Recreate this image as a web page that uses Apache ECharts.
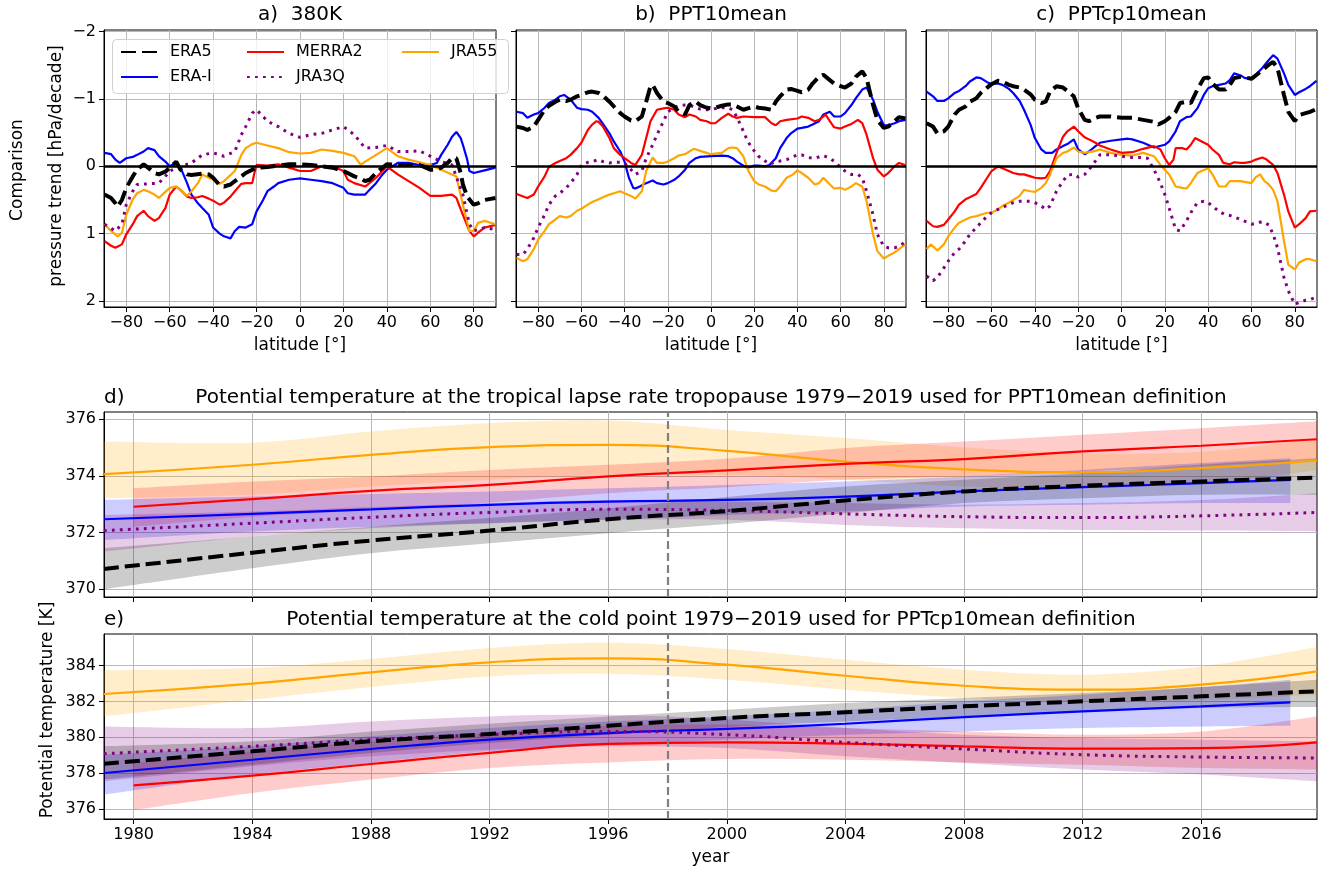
<!DOCTYPE html>
<html>
<head>
<meta charset="utf-8">
<script src="https://cdn.jsdelivr.net/npm/echarts@6.0.0/dist/echarts.min.js"></script>
<style>
  html, body { margin: 0; padding: 0; background: #ffffff; }
  #chart { width: 1322px; height: 871px; }
</style>
</head>
<body>
<div id="chart"></div>
<script>
// ---------- tick positions ----------
const latTicks = [-80, -60, -40, -20, 0, 20, 40, 60, 80];
const trendTicks = [-2, -1, 0, 1, 2];
const yearTicks = [1980, 1984, 1988, 1992, 1996, 2000, 2004, 2008, 2012, 2016];
const thetaTicksD = [370, 372, 374, 376];
const thetaTicksE = [376, 378, 380, 382, 384];

// ---------- a) 380K pressure trends [hPa/decade] as [latitude, trend] ----------
const a_ERA5 = [[-90,0.42],[-87,0.47],[-85,0.55],[-84,0.6],[-82,0.5],[-80,0.32],[-77,0.15],[-75,0.05],[-72,-0.03],[-70,0.02],[-67,0.1],[-65,0.12],[-62,0.08],[-60,0.02],[-57,-0.07],[-55,0.05],[-52,0.12],[-50,0.13],[-45,0.11],[-42,0.12],[-40,0.17],[-37,0.28],[-35,0.3],[-32,0.27],[-30,0.22],[-27,0.15],[-25,0.1],[-22,0.05],[-20,0.02],[-15,0.01],[-10,-0.01],[-5,-0.03],[0,-0.03],[5,-0.02],[10,0],[15,0.02],[20,0.07],[25,0.15],[28,0.18],[30,0.22],[32,0.2],[35,0.1],[38,0.02],[40,-0.03],[45,-0.02],[50,-0.02],[55,-0.02],[60,0.05],[63,0.05],[65,0.02],[68,-0.05],[70,-0.12],[72,-0.12],[74,0.1],[75,0.27],[77,0.45],[80,0.57],[82,0.55],[85,0.5],[90,0.47]];
const a_ERAI = [[-90,-0.2],[-87,-0.18],[-85,-0.1],[-83,-0.05],[-80,-0.12],[-77,-0.14],[-75,-0.17],[-72,-0.22],[-70,-0.27],[-67,-0.24],[-65,-0.15],[-62,-0.07],[-60,0],[-57,-0.05],[-55,0.02],[-52,0.25],[-50,0.42],[-47,0.55],[-45,0.62],[-42,0.72],[-40,0.91],[-37,1.0],[-35,1.04],[-32,1.07],[-30,0.96],[-28,0.9],[-25,0.91],[-22,0.86],[-20,0.67],[-17,0.5],[-15,0.37],[-12,0.3],[-10,0.25],[-5,0.2],[0,0.18],[5,0.2],[10,0.22],[15,0.25],[20,0.32],[22,0.4],[25,0.42],[30,0.42],[32,0.35],[35,0.25],[38,0.12],[40,0.05],[45,-0.05],[50,-0.05],[55,-0.02],[60,-0.02],[63,-0.05],[65,-0.17],[68,-0.32],[70,-0.44],[72,-0.51],[74,-0.42],[75,-0.32],[77,-0.1],[78,0.07],[80,0.1],[85,0.06],[90,0.02]];
const a_MERRA2 = [[-90,1.11],[-87,1.18],[-85,1.21],[-82,1.16],[-80,1.01],[-77,0.86],[-75,0.74],[-72,0.66],[-70,0.74],[-67,0.81],[-65,0.77],[-62,0.62],[-60,0.42],[-57,0.3],[-55,0.35],[-52,0.45],[-50,0.47],[-47,0.46],[-45,0.44],[-42,0.48],[-40,0.51],[-37,0.57],[-35,0.54],[-32,0.45],[-30,0.37],[-27,0.26],[-25,0.25],[-22,0.25],[-21,0.1],[-20,-0.02],[-15,-0.01],[-10,-0.03],[-5,0.02],[0,0.07],[5,0.07],[10,0],[15,0],[20,0.07],[22,0.2],[25,0.25],[30,0.3],[32,0.25],[35,0.17],[38,0.07],[40,0],[45,0.12],[50,0.22],[55,0.32],[60,0.44],[65,0.44],[70,0.42],[72,0.47],[75,0.72],[78,0.96],[80,1.04],[83,0.96],[85,0.91],[90,0.87]];
const a_JRA55 = [[-90,0.86],[-87,0.96],[-84,1.04],[-82,0.99],[-80,0.72],[-77,0.49],[-75,0.4],[-72,0.35],[-70,0.37],[-67,0.42],[-65,0.47],[-62,0.38],[-60,0.32],[-57,0.3],[-55,0.35],[-52,0.44],[-50,0.37],[-47,0.25],[-45,0.12],[-42,0.17],[-40,0.2],[-37,0.26],[-35,0.22],[-30,0.07],[-27,-0.17],[-25,-0.27],[-22,-0.33],[-20,-0.35],[-15,-0.31],[-10,-0.27],[-5,-0.21],[0,-0.19],[5,-0.2],[10,-0.25],[15,-0.23],[20,-0.2],[25,-0.15],[28,-0.02],[30,-0.07],[35,-0.17],[40,-0.27],[45,-0.15],[50,-0.1],[55,-0.06],[60,-0.02],[65,0.05],[70,0.12],[72,0.15],[75,0.57],[78,0.96],[80,0.96],[82,0.84],[85,0.81],[90,0.86]];
const a_JRA3Q = [[-90,0.86],[-85,0.96],[-82,0.86],[-80,0.57],[-77,0.37],[-75,0.27],[-70,0.26],[-65,0.25],[-62,0.15],[-60,0.07],[-55,0],[-50,-0.05],[-45,-0.17],[-40,-0.2],[-35,-0.15],[-30,-0.22],[-27,-0.47],[-25,-0.59],[-22,-0.79],[-20,-0.84],[-17,-0.74],[-15,-0.67],[-10,-0.59],[-5,-0.49],[0,-0.43],[5,-0.47],[10,-0.49],[15,-0.54],[20,-0.59],[25,-0.47],[30,-0.27],[35,-0.28],[40,-0.31],[45,-0.22],[50,-0.22],[55,-0.23],[60,-0.15],[65,-0.07],[70,-0.02],[75,0.42],[78,0.86],[80,0.96],[85,0.91],[90,0.94]];

// ---------- b) PPT10mean ----------
const b_ERA5 = [[-90,-0.59],[-87,-0.57],[-85,-0.54],[-82,-0.59],[-80,-0.69],[-77,-0.84],[-75,-0.9],[-72,-0.96],[-70,-0.99],[-67,-0.97],[-65,-0.99],[-62,-1.04],[-60,-1.06],[-57,-1.1],[-55,-1.11],[-52,-1.09],[-50,-1.05],[-47,-0.96],[-45,-0.89],[-42,-0.79],[-40,-0.74],[-37,-0.68],[-35,-0.67],[-32,-0.74],[-30,-0.96],[-28,-1.19],[-27,-1.21],[-25,-1.09],[-22,-0.96],[-20,-0.94],[-17,-0.89],[-15,-0.81],[-12,-0.77],[-10,-0.91],[-7,-0.96],[-5,-0.91],[-2,-0.87],[0,-0.86],[2,-0.87],[5,-0.9],[8,-0.92],[10,-0.92],[12,-0.89],[15,-0.84],[17,-0.86],[20,-0.89],[22,-0.87],[25,-0.86],[28,-0.84],[30,-0.96],[32,-1.04],[35,-1.14],[37,-1.15],[40,-1.12],[42,-1.1],[45,-1.14],[47,-1.23],[50,-1.33],[52,-1.36],[55,-1.28],[57,-1.23],[60,-1.19],[62,-1.17],[65,-1.23],[67,-1.33],[70,-1.41],[72,-1.31],[75,-0.91],[77,-0.69],[80,-0.57],[82,-0.59],[85,-0.67],[87,-0.73],[90,-0.71]];
const b_ERAI = [[-90,-0.81],[-87,-0.79],[-85,-0.72],[-82,-0.77],[-80,-0.79],[-77,-0.87],[-75,-0.94],[-72,-0.99],[-70,-1.04],[-68,-1.06],[-65,-0.99],[-62,-0.87],[-60,-0.85],[-57,-0.84],[-55,-0.81],[-52,-0.72],[-50,-0.63],[-47,-0.49],[-45,-0.37],[-42,-0.22],[-40,-0.07],[-38,0.17],[-36,0.32],[-35,0.33],[-33,0.3],[-30,0.25],[-27,0.21],[-25,0.25],[-22,0.27],[-20,0.25],[-17,0.2],[-15,0.15],[-12,0.05],[-10,-0.05],[-7,-0.12],[-5,-0.14],[0,-0.15],[5,-0.16],[8,-0.15],[10,-0.12],[12,-0.07],[15,-0.01],[17,0.02],[20,-0.01],[22,-0.01],[25,0],[27,-0.02],[30,-0.12],[32,-0.27],[35,-0.42],[37,-0.49],[40,-0.56],[42,-0.57],[45,-0.59],[47,-0.62],[50,-0.67],[52,-0.77],[55,-0.81],[57,-0.74],[60,-0.74],[62,-0.79],[65,-0.91],[67,-1.01],[70,-1.14],[72,-1.17],[75,-0.99],[77,-0.81],[80,-0.61],[82,-0.61],[85,-0.64],[87,-0.67],[90,-0.69]];
const b_MERRA2 = [[-90,0.41],[-85,0.47],[-82,0.42],[-80,0.3],[-77,0.15],[-75,0.01],[-72,-0.05],[-70,-0.08],[-67,-0.12],[-65,-0.17],[-62,-0.27],[-60,-0.35],[-57,-0.54],[-55,-0.62],[-53,-0.67],[-52,-0.66],[-50,-0.59],[-47,-0.42],[-45,-0.27],[-42,-0.17],[-40,-0.12],[-37,-0.05],[-35,-0.02],[-32,-0.17],[-30,-0.42],[-28,-0.67],[-25,-0.84],[-22,-0.86],[-20,-0.87],[-17,-0.84],[-15,-0.77],[-12,-0.73],[-10,-0.77],[-7,-0.74],[-5,-0.69],[-2,-0.67],[0,-0.64],[2,-0.64],[5,-0.72],[8,-0.78],[10,-0.74],[12,-0.72],[15,-0.74],[20,-0.73],[25,-0.73],[28,-0.64],[30,-0.61],[32,-0.67],[35,-0.69],[40,-0.71],[42,-0.74],[45,-0.72],[48,-0.67],[50,-0.69],[52,-0.74],[53,-0.77],[55,-0.67],[57,-0.58],[60,-0.56],[62,-0.59],[65,-0.63],[68,-0.69],[70,-0.64],[72,-0.47],[75,-0.12],[77,0.05],[80,0.15],[82,0.1],[85,0],[87,-0.05],[90,-0.02]];
const b_JRA55 = [[-90,1.36],[-87,1.41],[-85,1.38],[-82,1.23],[-80,1.09],[-77,0.96],[-75,0.86],[-72,0.79],[-70,0.74],[-67,0.76],[-65,0.74],[-62,0.66],[-60,0.63],[-57,0.57],[-55,0.53],[-52,0.49],[-50,0.46],[-47,0.42],[-45,0.4],[-42,0.37],[-40,0.4],[-37,0.44],[-35,0.48],[-32,0.37],[-30,0.07],[-27,-0.13],[-25,-0.05],[-22,-0.05],[-20,-0.07],[-17,-0.12],[-15,-0.16],[-12,-0.18],[-10,-0.22],[-8,-0.26],[-5,-0.23],[-2,-0.2],[0,-0.18],[5,-0.2],[8,-0.27],[10,-0.28],[12,-0.27],[15,-0.15],[17,0.05],[20,0.22],[22,0.27],[25,0.3],[28,0.36],[30,0.37],[32,0.3],[35,0.17],[38,0.12],[40,0.06],[42,0.1],[45,0.17],[48,0.27],[50,0.25],[52,0.17],[55,0.27],[57,0.33],[60,0.32],[62,0.35],[65,0.3],[67,0.25],[70,0.3],[72,0.52],[75,1.01],[77,1.26],[80,1.37],[82,1.33],[85,1.28],[87,1.23],[90,1.16]];
const b_JRA3Q = [[-90,1.31],[-87,1.31],[-85,1.23],[-82,1.06],[-80,0.91],[-77,0.72],[-75,0.57],[-72,0.44],[-70,0.4],[-67,0.32],[-65,0.25],[-62,0.12],[-60,-0.02],[-57,-0.06],[-55,-0.07],[-52,-0.1],[-50,-0.07],[-47,-0.05],[-45,-0.06],[-42,-0.06],[-40,-0.05],[-37,0.05],[-35,0.12],[-32,0.07],[-30,-0.12],[-27,-0.32],[-25,-0.47],[-22,-0.67],[-20,-0.81],[-17,-0.87],[-15,-0.9],[-12,-0.91],[-10,-0.91],[-5,-0.85],[-2,-0.84],[0,-0.85],[5,-0.87],[8,-0.87],[10,-0.84],[12,-0.73],[15,-0.52],[17,-0.37],[20,-0.23],[22,-0.15],[25,-0.08],[27,-0.03],[30,-0.07],[32,-0.08],[35,-0.1],[40,-0.17],[42,-0.17],[45,-0.13],[48,-0.12],[52,-0.16],[55,-0.12],[58,-0.05],[60,0.02],[62,0.07],[65,0.12],[68,0.12],[70,0.17],[72,0.37],[75,0.72],[77,1.01],[80,1.19],[82,1.21],[85,1.21],[87,1.19],[90,1.12]];

// ---------- c) PPTcp10mean ----------
const c_ERA5 = [[-90,-0.64],[-87,-0.59],[-85,-0.49],[-82,-0.52],[-80,-0.59],[-77,-0.77],[-75,-0.84],[-72,-0.89],[-70,-0.96],[-67,-1.01],[-65,-1.09],[-62,-1.17],[-60,-1.22],[-57,-1.27],[-55,-1.26],[-52,-1.21],[-50,-1.19],[-47,-1.17],[-45,-1.14],[-42,-1.07],[-40,-0.99],[-37,-0.94],[-35,-0.96],[-33,-1.11],[-30,-1.19],[-27,-1.17],[-25,-1.12],[-22,-1.04],[-20,-0.86],[-17,-0.69],[-15,-0.67],[-12,-0.72],[-10,-0.74],[-5,-0.74],[0,-0.72],[5,-0.72],[10,-0.69],[15,-0.66],[17,-0.62],[20,-0.67],[22,-0.72],[25,-0.81],[27,-0.94],[30,-0.96],[32,-0.94],[35,-1.14],[38,-1.31],[40,-1.32],[42,-1.23],[45,-1.14],[48,-1.14],[50,-1.21],[52,-1.31],[55,-1.33],[57,-1.32],[60,-1.3],[62,-1.35],[65,-1.43],[68,-1.51],[70,-1.55],[72,-1.46],[75,-1.06],[77,-0.81],[80,-0.67],[82,-0.76],[85,-0.79],[87,-0.81],[90,-0.85]];
const c_ERAI = [[-90,-1.11],[-87,-1.04],[-85,-0.97],[-82,-0.97],[-80,-1.01],[-77,-1.09],[-75,-1.12],[-72,-1.19],[-70,-1.26],[-67,-1.32],[-65,-1.31],[-62,-1.25],[-60,-1.22],[-57,-1.23],[-55,-1.21],[-52,-1.15],[-50,-1.09],[-47,-0.97],[-45,-0.84],[-42,-0.62],[-40,-0.42],[-37,-0.25],[-35,-0.2],[-32,-0.2],[-30,-0.25],[-27,-0.3],[-25,-0.33],[-22,-0.4],[-20,-0.25],[-17,-0.18],[-15,-0.22],[-12,-0.3],[-10,-0.35],[-5,-0.38],[0,-0.4],[3,-0.41],[5,-0.4],[10,-0.35],[15,-0.28],[20,-0.32],[22,-0.37],[25,-0.52],[27,-0.67],[30,-0.73],[32,-0.74],[35,-0.86],[38,-1.06],[40,-1.16],[42,-1.19],[45,-1.21],[48,-1.23],[50,-1.28],[52,-1.38],[55,-1.35],[57,-1.31],[60,-1.31],[62,-1.36],[65,-1.46],[68,-1.58],[70,-1.65],[72,-1.6],[75,-1.38],[77,-1.21],[80,-1.06],[82,-1.1],[85,-1.15],[87,-1.19],[90,-1.27]];
const c_MERRA2 = [[-90,0.81],[-87,0.89],[-85,0.9],[-82,0.87],[-80,0.79],[-77,0.67],[-75,0.57],[-72,0.49],[-70,0.46],[-67,0.41],[-65,0.32],[-62,0.17],[-60,0.07],[-57,0],[-55,0.03],[-52,0.07],[-50,0.1],[-47,0.12],[-45,0.12],[-42,0.15],[-40,0.17],[-37,0.18],[-35,0.17],[-33,0.07],[-30,-0.2],[-27,-0.44],[-25,-0.52],[-22,-0.59],[-20,-0.52],[-17,-0.43],[-15,-0.4],[-12,-0.35],[-10,-0.31],[-5,-0.25],[0,-0.2],[5,-0.21],[10,-0.26],[15,-0.3],[18,-0.25],[20,-0.12],[22,-0.02],[24,-0.1],[25,-0.27],[28,-0.27],[30,-0.25],[32,-0.32],[34,-0.42],[37,-0.37],[40,-0.32],[42,-0.25],[45,-0.17],[47,-0.05],[50,-0.03],[52,-0.06],[55,-0.05],[57,-0.05],[60,-0.07],[62,-0.1],[65,-0.13],[67,-0.1],[70,-0.02],[72,0.1],[75,0.42],[77,0.67],[80,0.91],[82,0.86],[85,0.77],[87,0.67],[90,0.66]];
const c_JRA55 = [[-90,1.23],[-88,1.16],[-85,1.25],[-82,1.16],[-80,1.04],[-77,0.91],[-75,0.84],[-72,0.79],[-70,0.76],[-67,0.74],[-65,0.72],[-62,0.69],[-60,0.69],[-57,0.64],[-55,0.59],[-52,0.54],[-50,0.5],[-47,0.44],[-45,0.35],[-42,0.37],[-40,0.38],[-37,0.32],[-35,0.25],[-33,0.12],[-30,-0.12],[-27,-0.2],[-25,-0.22],[-22,-0.28],[-20,-0.22],[-17,-0.2],[-15,-0.21],[-12,-0.23],[-10,-0.25],[-5,-0.2],[0,-0.17],[5,-0.16],[10,-0.2],[15,-0.15],[18,-0.02],[20,0.05],[22,0.12],[25,0.3],[28,0.32],[30,0.33],[32,0.25],[35,0.1],[37,0.07],[40,0.03],[42,0.12],[45,0.3],[48,0.3],[50,0.22],[55,0.22],[60,0.25],[62,0.16],[64,0.12],[66,0.22],[68,0.27],[70,0.35],[72,0.52],[75,1.11],[77,1.46],[80,1.53],[82,1.43],[85,1.38],[87,1.38],[90,1.41]];
const c_JRA3Q = [[-90,1.63],[-87,1.7],[-85,1.65],[-82,1.51],[-80,1.41],[-77,1.28],[-75,1.23],[-72,1.11],[-70,1.01],[-67,0.91],[-65,0.84],[-62,0.74],[-60,0.69],[-57,0.64],[-55,0.61],[-52,0.57],[-50,0.54],[-47,0.52],[-45,0.52],[-42,0.52],[-40,0.54],[-37,0.59],[-35,0.64],[-33,0.59],[-30,0.37],[-27,0.22],[-25,0.13],[-22,0.12],[-20,0.16],[-17,0.12],[-15,0.05],[-12,-0.08],[-10,-0.17],[-5,-0.17],[0,-0.15],[5,-0.13],[10,-0.13],[12,-0.12],[15,0.05],[18,0.25],[20,0.42],[22,0.62],[25,0.94],[27,0.96],[30,0.81],[32,0.69],[35,0.54],[38,0.52],[40,0.54],[42,0.59],[45,0.67],[48,0.72],[50,0.73],[55,0.79],[60,0.86],[62,0.85],[65,0.82],[68,0.87],[70,1.01],[72,1.21],[75,1.65],[77,1.85],[80,2.05],[82,2.02],[85,1.99],[87,1.98],[90,1.94]];

// ---------- d), e) potential temperature fits [K] with uncertainty ranges ----------
const yearsFull  = [1979, 1984, 1988, 1992, 1996, 2000, 2004, 2008, 2012, 2016, 2019.9];
const yearsERAI  = [1979, 1984, 1988, 1992, 1996, 2000, 2004, 2008, 2012, 2016, 2019];
const yearsMERRA = [1980, 1984, 1988, 1992, 1996, 2000, 2004, 2008, 2012, 2016, 2019.9];

const d_ERA5    = [370.72, 371.29, 371.72, 372.07, 372.47, 372.76, 373.13, 373.45, 373.65, 373.8, 373.94];
const d_ERA5_lo = [370.0, 370.74, 371.27, 371.62, 371.98, 372.3, 372.68, 373.04, 373.21, 373.33, 373.33];
const d_ERA5_hi = [371.45, 371.86, 372.21, 372.51, 372.86, 373.25, 373.62, 373.86, 374.09, 374.39, 374.62];
const d_ERAI    = [372.47, 372.66, 372.82, 372.98, 373.09, 373.15, 373.27, 373.45, 373.6, 373.74, 373.86];
const d_ERAI_lo = [371.74, 372.04, 372.21, 372.33, 372.45, 372.62, 372.74, 372.92, 372.98, 373.04, 373.04];
const d_ERAI_hi = [373.15, 373.27, 373.36, 373.45, 373.56, 373.68, 373.8, 373.98, 374.21, 374.45, 374.62];
const d_MERRA2    = [372.91, 373.18, 373.47, 373.68, 373.98, 374.19, 374.42, 374.59, 374.86, 375.06, 375.29];
const d_MERRA2_lo = [372.21, 372.56, 372.8, 373.06, 373.39, 373.6, 373.86, 373.98, 374.15, 374.35, 374.56];
const d_MERRA2_hi = [373.56, 373.8, 373.98, 374.21, 374.39, 374.6, 374.98, 375.21, 375.45, 375.68, 375.92];
const d_JRA55    = [374.06, 374.39, 374.74, 375.01, 375.09, 374.88, 374.5, 374.23, 374.13, 374.27, 374.54];
const d_JRA55_lo = [373.21, 373.33, 373.62, 373.86, 374.03, 374.03, 373.86, 373.62, 373.56, 373.74, 374.2];
const d_JRA55_hi = [375.21, 375.17, 375.56, 375.86, 375.95, 375.62, 375.33, 375.0, 374.8, 374.85, 375.3];
const d_JRA3Q    = [372.07, 372.33, 372.54, 372.71, 372.82, 372.78, 372.66, 372.56, 372.53, 372.59, 372.71];
const d_JRA3Q_lo = [371.33, 371.86, 372.15, 372.33, 372.45, 372.45, 372.27, 372.15, 372.09, 372.07, 372.04];
const d_JRA3Q_hi = [372.62, 372.74, 372.9, 373.04, 373.15, 373.09, 373.04, 372.98, 373.04, 373.15, 373.39];

const e_ERA5    = [378.53, 379.22, 379.78, 380.19, 380.65, 381.08, 381.4, 381.73, 382.01, 382.29, 382.57];
const e_ERA5_lo = [377.64, 378.47, 379.13, 379.68, 380.15, 380.58, 380.89, 381.17, 381.45, 381.64, 381.69];
const e_ERA5_hi = [379.5, 379.78, 380.33, 380.76, 381.17, 381.54, 381.92, 382.2, 382.47, 382.81, 383.22];
const e_ERAI    = [378.01, 378.75, 379.35, 379.87, 380.24, 380.47, 380.76, 381.13, 381.45, 381.73, 381.95];
const e_ERAI_lo = [376.8, 377.92, 378.57, 379.22, 379.59, 379.87, 380.15, 380.33, 380.52, 380.61, 380.65];
const e_ERAI_hi = [379.03, 379.5, 380.06, 380.52, 380.89, 381.17, 381.54, 382.01, 382.38, 382.81, 383.22];
const e_MERRA2    = [377.32, 377.86, 378.51, 379.13, 379.63, 379.72, 379.65, 379.5, 379.37, 379.4, 379.72];
const e_MERRA2_lo = [375.93, 376.89, 377.64, 378.29, 378.6, 378.79, 378.75, 378.6, 378.47, 378.29, 378.2];
const e_MERRA2_hi = [378.57, 379.22, 379.78, 380.24, 380.65, 380.71, 380.52, 380.33, 380.15, 380.33, 381.17];
const e_JRA55    = [382.42, 383.0, 383.63, 384.19, 384.41, 384.06, 383.44, 382.88, 382.66, 382.94, 383.68];
const e_JRA55_lo = [381.17, 382.1, 382.81, 383.4, 383.55, 383.22, 382.66, 382.2, 382.01, 382.1, 382.38];
const e_JRA55_hi = [383.74, 383.87, 384.37, 384.99, 385.3, 384.93, 384.33, 383.78, 383.5, 383.96, 385.04];
const e_JRA3Q    = [379.09, 379.5, 379.87, 380.15, 380.33, 380.15, 379.72, 379.35, 379.03, 378.9, 378.85];
const e_JRA3Q_lo = [377.54, 378.38, 378.94, 379.31, 379.5, 379.4, 378.94, 378.57, 378.2, 377.92, 377.54];
const e_JRA3Q_hi = [380.61, 380.52, 380.89, 381.17, 381.26, 380.99, 380.52, 380.15, 379.96, 379.87, 379.78];

const splitYear = 1998;

// ---------- styling ----------
const FONT = 'DejaVu Sans';
const STYLE = {
  'ERA5':   { color: '#000000', width: 4,   type: [15, 6] },
  'ERA-I':  { color: '#0000ff', width: 2.2, type: 'solid' },
  'MERRA2': { color: '#ff0000', width: 2.2, type: 'solid' },
  'JRA55':  { color: '#ffa500', width: 2.2, type: 'solid' },
  'JRA3Q':  { color: '#800080', width: 3,   type: [2.8, 5.2] }
};
const BAND = {
  'ERA5': 'rgba(0,0,0,0.2)', 'ERA-I': 'rgba(0,0,255,0.2)', 'MERRA2': 'rgba(255,0,0,0.2)',
  'JRA55': 'rgba(255,165,0,0.2)', 'JRA3Q': 'rgba(128,0,128,0.2)'
};
const minusFmt = v => (v < 0 ? '\u2212' + Math.abs(v) : String(v));
const plainFmt = v => String(v);

function lineSeries(name, idx, data, smooth, extra) {
  const s = STYLE[name];
  return Object.assign({
    type: 'line', name: name, xAxisIndex: idx, yAxisIndex: idx,
    data: data, symbol: 'none', showSymbol: false, smooth: smooth,
    lineStyle: { color: s.color, width: s.width, type: s.type, cap: 'butt' },
    itemStyle: { color: s.color },
    z: 3, silent: true
  }, extra || {});
}
function pairs(xs, ys) { return xs.map((x, i) => [x, ys[i]]); }

// Cubic (Catmull-Rom style) path through projected points, continuing an open path
function splinePath(pts) {
  let d = '';
  const n = pts.length;
  for (let i = 0; i < n - 1; i++) {
    const p0 = pts[Math.max(i - 1, 0)], p1 = pts[i], p2 = pts[i + 1], p3 = pts[Math.min(i + 2, n - 1)];
    const c1 = [p1[0] + (p2[0] - p0[0]) / 6, p1[1] + (p2[1] - p0[1]) / 6];
    const c2 = [p2[0] - (p3[0] - p1[0]) / 6, p2[1] - (p3[1] - p1[1]) / 6];
    d += 'C' + c1[0].toFixed(2) + ',' + c1[1].toFixed(2) + ' ' + c2[0].toFixed(2) + ',' + c2[1].toFixed(2) + ' ' + p2[0].toFixed(2) + ',' + p2[1].toFixed(2);
  }
  return d;
}
// Shaded range between lower and upper fit bounds
function bandSeries(name, idx, xs, lo, hi) {
  const rows = xs.map((x, i) => [x, lo[i], hi[i]]);
  return {
    type: 'custom', xAxisIndex: idx, yAxisIndex: idx, silent: true, z: 1, clip: true,
    data: rows,
    encode: { x: 0, y: [1, 2] },
    renderItem: function (params, api) {
      if (params.dataIndex !== 0) return null;
      const up = rows.map(r => api.coord([r[0], r[2]]));
      const dn = rows.map(r => api.coord([r[0], r[1]])).reverse();
      const d = 'M' + up[0][0].toFixed(2) + ',' + up[0][1].toFixed(2) + splinePath(up) +
                'L' + dn[0][0].toFixed(2) + ',' + dn[0][1].toFixed(2) + splinePath(dn) + 'Z';
      return { type: 'path', shape: { pathData: d }, style: { fill: BAND[name], stroke: null } };
    }
  };
}

const zeroLine = {
  silent: true, symbol: 'none', label: { show: false },
  lineStyle: { color: '#000', width: 2.5, type: 'solid' },
  data: [{ yAxis: 0 }]
};
const splitMark = {
  silent: true, symbol: 'none', label: { show: false },
  lineStyle: { color: '#808080', width: 2.2, type: [8, 4] },
  data: [{ xAxis: splitYear }]
};

// ---------- layout ----------
const grids = [
  { left: 104, top: 30, width: 392, height: 277 },
  { left: 516, top: 30, width: 390, height: 277 },
  { left: 926, top: 30, width: 391, height: 277 },
  { left: 104, top: 412, width: 1213, height: 185 },
  { left: 104, top: 634, width: 1213, height: 185 }
].map(g => Object.assign(g, { show: true, borderColor: '#000', borderWidth: 1, backgroundColor: 'transparent', containLabel: false }));

const gridLine = { show: true, lineStyle: { color: '#b8b8b8', width: 1 } };
const axisLineStyle = { show: true, onZero: false, lineStyle: { color: '#000', width: 1 } };
const tickStyle = (vals) => ({ show: true, inside: false, length: 5, customValues: vals, lineStyle: { color: '#000', width: 1 } });
const labelStyle = (vals, show, fmt) => ({ show: show, customValues: vals, formatter: fmt, fontSize: 16, fontFamily: FONT, color: '#000', margin: 8 });
const nameStyle = { fontSize: 17, fontFamily: FONT, color: '#000' };

const xAxes = [];
const yAxes = [];
for (let i = 0; i < 3; i++) {
  xAxes.push({
    type: 'value', gridIndex: i, min: -90.25, max: 90.25,
    axisLine: axisLineStyle,
    axisTick: tickStyle(latTicks), axisLabel: labelStyle(latTicks, true, minusFmt),
    splitLine: gridLine,
    name: 'latitude [\u00b0]', nameLocation: 'middle', nameGap: 30, nameTextStyle: nameStyle
  });
  yAxes.push({
    type: 'value', gridIndex: i, inverse: true, min: -2.025, max: 2.09,
    axisLine: axisLineStyle,
    axisTick: tickStyle(trendTicks), axisLabel: labelStyle(trendTicks, i === 0, minusFmt),
    splitLine: gridLine
  });
}
xAxes.push({
  type: 'value', gridIndex: 3, min: 1979, max: 2019.9,
  axisLine: axisLineStyle,
  axisTick: tickStyle(yearTicks), axisLabel: labelStyle(yearTicks, false, plainFmt),
  splitLine: gridLine
});
yAxes.push({
  type: 'value', gridIndex: 3, min: 369.73, max: 376.25,
  axisLine: axisLineStyle,
  axisTick: tickStyle(thetaTicksD), axisLabel: labelStyle(thetaTicksD, true, plainFmt),
  splitLine: gridLine
});
xAxes.push({
  type: 'value', gridIndex: 4, min: 1979, max: 2019.9,
  axisLine: axisLineStyle,
  axisTick: tickStyle(yearTicks), axisLabel: labelStyle(yearTicks, true, plainFmt),
  splitLine: gridLine,
  name: 'year', nameLocation: 'middle', nameGap: 30, nameTextStyle: nameStyle
});
yAxes.push({
  type: 'value', gridIndex: 4, min: 375.44, max: 385.77,
  axisLine: axisLineStyle,
  axisTick: tickStyle(thetaTicksE), axisLabel: labelStyle(thetaTicksE, true, plainFmt),
  splitLine: gridLine
});

// ---------- series ----------
const series = [];
const trendPanels = [
  [a_ERA5, a_ERAI, a_MERRA2, a_JRA55, a_JRA3Q],
  [b_ERA5, b_ERAI, b_MERRA2, b_JRA55, b_JRA3Q],
  [c_ERA5, c_ERAI, c_MERRA2, c_JRA55, c_JRA3Q]
];
trendPanels.forEach((p, i) => {
  series.push(lineSeries('ERA5', i, p[0], false, { z: 4, markLine: zeroLine }));
  series.push(lineSeries('ERA-I', i, p[1], false));
  series.push(lineSeries('MERRA2', i, p[2], false));
  series.push(lineSeries('JRA55', i, p[3], false));
  series.push(lineSeries('JRA3Q', i, p[4], false));
});

// d) lapse rate tropopause
series.push(bandSeries('JRA55', 3, yearsFull, d_JRA55_lo, d_JRA55_hi));
series.push(bandSeries('MERRA2', 3, yearsMERRA, d_MERRA2_lo, d_MERRA2_hi));
series.push(bandSeries('ERA-I', 3, yearsERAI, d_ERAI_lo, d_ERAI_hi));
series.push(bandSeries('JRA3Q', 3, yearsFull, d_JRA3Q_lo, d_JRA3Q_hi));
series.push(bandSeries('ERA5', 3, yearsFull, d_ERA5_lo, d_ERA5_hi));
series.push(lineSeries('JRA55', 3, pairs(yearsFull, d_JRA55), true));
series.push(lineSeries('MERRA2', 3, pairs(yearsMERRA, d_MERRA2), true));
series.push(lineSeries('ERA-I', 3, pairs(yearsERAI, d_ERAI), true));
series.push(lineSeries('JRA3Q', 3, pairs(yearsFull, d_JRA3Q), true));
series.push(lineSeries('ERA5', 3, pairs(yearsFull, d_ERA5), true, { z: 4, markLine: splitMark }));

// e) cold point
series.push(bandSeries('JRA55', 4, yearsFull, e_JRA55_lo, e_JRA55_hi));
series.push(bandSeries('MERRA2', 4, yearsMERRA, e_MERRA2_lo, e_MERRA2_hi));
series.push(bandSeries('ERA-I', 4, yearsERAI, e_ERAI_lo, e_ERAI_hi));
series.push(bandSeries('JRA3Q', 4, yearsFull, e_JRA3Q_lo, e_JRA3Q_hi));
series.push(bandSeries('ERA5', 4, yearsFull, e_ERA5_lo, e_ERA5_hi));
series.push(lineSeries('JRA55', 4, pairs(yearsFull, e_JRA55), true));
series.push(lineSeries('MERRA2', 4, pairs(yearsMERRA, e_MERRA2), true));
series.push(lineSeries('ERA-I', 4, pairs(yearsERAI, e_ERAI), true));
series.push(lineSeries('JRA3Q', 4, pairs(yearsFull, e_JRA3Q), true));
series.push(lineSeries('ERA5', 4, pairs(yearsFull, e_ERA5), true, { z: 4, markLine: splitMark }));

// ---------- legend (3 columns x 2 rows) ----------
const legendCells = [
  ['ERA5', 120, 44], ['ERA-I', 120, 69],
  ['MERRA2', 246, 44], ['JRA3Q', 246, 69],
  ['JRA55', 401, 44]
];
const legends = legendCells.map(([name, x, y]) => ({
  data: [name], left: x, top: y, padding: 0, itemWidth: 37, itemHeight: 18,
  selectedMode: false, z: 6,
  itemStyle: { opacity: 0 },
  textStyle: { fontSize: 16, fontFamily: FONT, color: '#000', padding: [0, 0, 0, 7] }
}));

// ---------- text ----------
function txt(text, x, y, size, align, rot) {
  return {
    type: 'text', x: x, y: y, rotation: rot || 0, z: 10,
    style: { text: text, fontSize: size, fontFamily: FONT, fill: '#000', align: align || 'center', verticalAlign: 'middle' }
  };
}
const graphics = [
  { type: 'rect', z: 5, shape: { x: 112.5, y: 39.5, width: 396, height: 54, r: 4 },
    style: { fill: 'rgba(255,255,255,0.8)', stroke: '#d0d0d0', lineWidth: 1 } },
  txt('a)  380K', 300, 15, 20),
  txt('b)  PPT10mean', 711, 15, 20),
  txt('c)  PPTcp10mean', 1121.5, 15, 20),
  txt('Comparison', 18, 170, 17, 'center', Math.PI / 2),
  txt('pressure trend [hPa/decade]', 57, 166, 17, 'center', Math.PI / 2),
  txt('d)', 104, 398, 20, 'left'),
  txt('Potential temperature at the tropical lapse rate tropopause 1979\u22122019 used for PPT10mean definition', 711, 398, 20),
  txt('e)', 104, 620, 20, 'left'),
  txt('Potential temperature at the cold point 1979\u22122019 used for PPTcp10mean definition', 711, 620, 20),
  txt('Potential temperature [K]', 48, 710, 17, 'center', Math.PI / 2)
];

const chart = echarts.init(document.getElementById('chart'), null, { renderer: 'canvas' });
chart.setOption({
  animation: false,
  backgroundColor: '#ffffff',
  textStyle: { fontFamily: FONT },
  grid: grids,
  xAxis: xAxes,
  yAxis: yAxes,
  legend: legends,
  graphic: graphics,
  series: series
});
</script>
</body>
</html>
